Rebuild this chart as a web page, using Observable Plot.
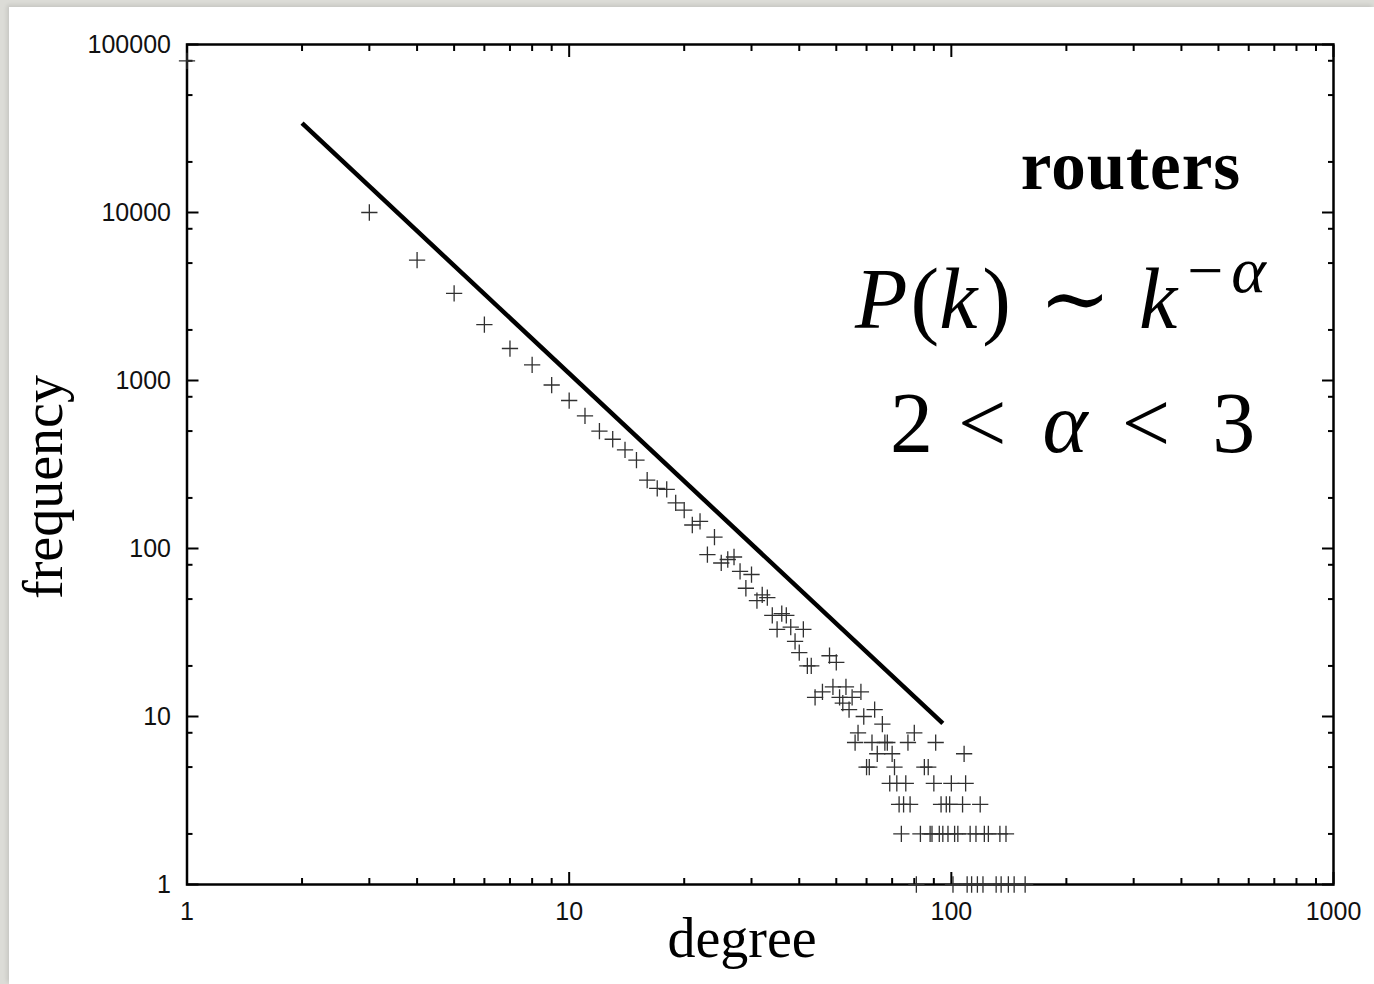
<!DOCTYPE html>
<html>
<head>
<meta charset="utf-8">
<script src="https://cdn.jsdelivr.net/npm/d3@7"></script>
<script src="https://cdn.jsdelivr.net/npm/@observablehq/plot@0.6"></script>
<style>
  html, body { margin: 0; padding: 0; background: #dcdcd7; }
  #wrap { position: relative; width: 1374px; height: 984px; overflow: hidden; }
  #panel { position: absolute; left: 9px; top: 7px; right: 0; bottom: 0; background: #ffffff;
           box-shadow: -2px -2px 4px rgba(0,0,0,0.10); }
  #chart { position: absolute; left: 0; top: 0; }
</style>
</head>
<body>
<div id="wrap"><div id="panel"></div><div id="chart"></div></div>
<script>
// ---- data ----
const degrees = [1, 3, 4, 5, 6, 7, 8, 9, 10, 11, 12, 13, 14, 15, 16, 17, 18, 19, 20,
  21, 22, 23, 24, 25, 26, 27, 28, 29, 30, 31, 32, 33, 34, 35, 36, 37, 38, 39, 40,
  41, 42, 43, 44, 46, 48, 49, 50, 51, 52, 53, 54, 55, 56, 57, 58, 59, 60,
  61, 62, 63, 64, 66, 67, 68, 69, 70, 71, 72, 73, 74, 75, 76, 77, 78, 80,
  81, 83, 85, 87, 88, 89, 90, 91, 93, 94, 95, 97, 98, 99, 100,
  101, 102, 104, 107, 108, 109, 110, 112, 113, 116, 117, 119, 121, 122, 125,
  131, 134, 135, 139, 141, 146, 156];
const frequencies = [80000, 10000, 5200, 3300, 2150, 1550, 1240, 940, 760, 615, 500, 447, 386, 336, 255, 228, 225, 187, 169,
  138, 145, 92, 117, 82, 86, 89, 73, 58, 70, 49, 53, 51, 40, 33, 41, 40, 34, 28, 24,
  33, 20, 20, 13, 14, 23, 15, 21, 13, 12, 15, 11, 13, 7, 8, 14, 10, 5,
  5, 7, 11, 6, 9, 7, 7, 4, 6, 5, 4, 3, 2, 3, 4, 7, 3, 8,
  1, 2, 5, 5, 2, 2, 4, 7, 2, 3, 2, 3, 2, 3, 4,
  1, 2, 2, 3, 6, 4, 1, 2, 1, 2, 1, 3, 1, 2, 2,
  1, 2, 1, 2, 1, 1, 1];
const fitDegrees = [2, 95];
const fitFrequencies = [34000, 9.1];
const xTickLabels = [1, 10, 100, 1000];
const yTickLabels = [1, 10, 100, 1000, 10000, 100000];
const xMinorSteps = [2, 3, 4, 5, 6, 7, 8, 9];
const yMinorSteps = [2, 5, 8];

// ---- derived tables ----
const points = degrees.map((k, i) => ({k, f: frequencies[i]}));
const fit = fitDegrees.map((k, i) => ({k, f: fitFrequencies[i]}));
const xMinor = xTickLabels.slice(0, -1).flatMap(d => xMinorSteps.map(m => d * m));
const yMinor = yTickLabels.slice(0, -1).flatMap(d => yMinorSteps.map(m => d * m));

const tickStroke = {stroke: "#000", strokeWidth: 2, fill: "none", label: null};

const svg = Plot.plot({
  width: 1374,
  height: 984,
  marginLeft: 186.5,
  marginRight: 41,
  marginTop: 44,
  marginBottom: 100,
  x: {type: "log", domain: [1, 1000]},
  y: {type: "log", domain: [1, 100000]},
  style: {fontFamily: "'Liberation Sans', Arial, sans-serif", fontSize: "25px", background: "transparent", overflow: "visible"},
  marks: [
    // inward major & minor ticks on all four sides
    Plot.axisX({anchor: "bottom", ticks: xTickLabels, tickSize: -12, ...tickStroke}),
    Plot.axisX({anchor: "top", ticks: xTickLabels, tickSize: -12, ...tickStroke}),
    Plot.axisX({anchor: "bottom", ticks: xMinor, tickSize: -6, ...tickStroke}),
    Plot.axisX({anchor: "top", ticks: xMinor, tickSize: -6, ...tickStroke}),
    Plot.axisY({anchor: "left", ticks: yTickLabels, tickSize: -12, ...tickStroke}),
    Plot.axisY({anchor: "right", ticks: yTickLabels, tickSize: -12, ...tickStroke}),
    Plot.axisY({anchor: "left", ticks: yMinor, tickSize: -6, ...tickStroke}),
    Plot.axisY({anchor: "right", ticks: yMinor, tickSize: -6, ...tickStroke}),
    // labels
    Plot.axisX({anchor: "bottom", ticks: xTickLabels, tickSize: 0, tickPadding: 18, tickFormat: d => String(d), fontSize: 25, color: "#111", label: null}),
    Plot.axisY({anchor: "left", ticks: yTickLabels, tickSize: 0, tickPadding: 16, tickFormat: d => String(d), fontSize: 25, color: "#111", label: null}),
    Plot.frame({stroke: "#000", strokeWidth: 2.5}),
    Plot.dot(points, {x: "k", y: "f", symbol: "plus", r: 5.3, stroke: "#303030", strokeWidth: 1.3}),
    Plot.line(fit, {x: "k", y: "f", stroke: "#000", strokeWidth: 4.5, strokeLinecap: "butt"})
  ]
});
document.getElementById("chart").appendChild(svg);

// ---- annotation texts ----
const s = d3.select(svg);
const serif = "'Liberation Serif', 'DejaVu Serif', 'Times New Roman', serif";

s.append("text")
  .attr("x", 742).attr("y", 957)
  .attr("text-anchor", "middle")
  .attr("font-family", serif).attr("font-size", 56).attr("fill", "#000")
  .text("degree");

s.append("text")
  .attr("transform", "translate(62,487) rotate(-90)")
  .attr("text-anchor", "middle")
  .attr("font-family", serif).attr("font-size", 56).attr("fill", "#000")
  .text("frequency");

s.append("text")
  .attr("x", 1131).attr("y", 189)
  .attr("text-anchor", "middle")
  .attr("font-family", serif).attr("font-weight", "bold").attr("font-size", 69)
  .attr("letter-spacing", 1).attr("fill", "#000")
  .text("routers");

// P(k) ~ k^{-alpha}
const f1 = s.append("text").attr("x", 855).attr("y", 328).attr("text-anchor", "start")
  .attr("font-family", serif).attr("font-size", 86).attr("fill", "#000");
[
  {t: "P", it: true, dx: 0},
  {t: "(", dx: 3},
  {t: "k", it: true, dx: 0},
  {t: ")", dx: 5},
  {t: "\u223C", dx: 28, fam: "'DejaVu Serif', serif"},
  {t: "k", it: true, dx: 28},
  {t: "\u2212", dx: 10, dy: -36, fs: 64},
  {t: "\u03B1", it: true, dx: 8, fs: 66}
].forEach(d => {
  const ts = f1.append("tspan").attr("dx", d.dx).text(d.t);
  if (d.it) ts.attr("font-style", "italic");
  if (d.dy) ts.attr("dy", d.dy);
  if (d.fs) ts.attr("font-size", d.fs);
  if (d.fam) ts.attr("font-family", d.fam);
});

// 2 < alpha < 3
const f2 = s.append("text").attr("x", 890).attr("y", 452).attr("text-anchor", "start")
  .attr("font-family", serif).attr("font-size", 86).attr("fill", "#000");
[
  {t: "2", dx: 0},
  {t: "<", dx: 25},
  {t: "\u03B1", it: true, dx: 36},
  {t: "<", dx: 34},
  {t: "3", dx: 42}
].forEach(d => {
  const ts = f2.append("tspan").attr("dx", d.dx).text(d.t);
  if (d.it) ts.attr("font-style", "italic");
});
</script>
</body>
</html>
